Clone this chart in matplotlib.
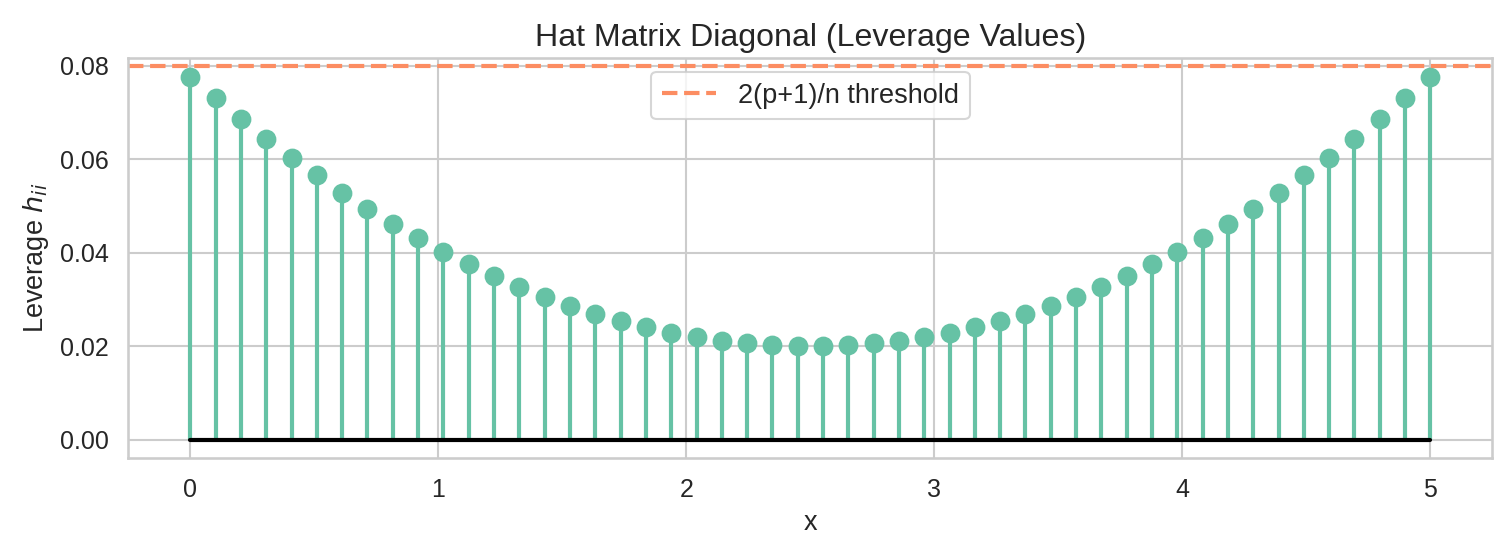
import matplotlib
matplotlib.use("Agg")
import matplotlib.pyplot as plt
import seaborn as sns

# x positions of the observations
x = [0.0, 0.102, 0.204, 0.306, 0.408, 0.510, 0.612, 0.714, 0.816, 0.918,
     1.020, 1.122, 1.224, 1.327, 1.429, 1.531, 1.633, 1.735, 1.837, 1.939,
     2.041, 2.143, 2.245, 2.347, 2.449, 2.551, 2.653, 2.755, 2.857, 2.959,
     3.061, 3.163, 3.265, 3.367, 3.469, 3.571, 3.673, 3.776, 3.878, 3.980,
     4.082, 4.184, 4.286, 4.388, 4.490, 4.592, 4.694, 4.796, 4.898, 5.0]

# leverage h_ii
half = [0.07765, 0.07304, 0.06862, 0.06439, 0.06036, 0.05652, 0.05287,
        0.04941, 0.04615, 0.04307, 0.04019, 0.03750, 0.03501, 0.03270,
        0.03059, 0.02867, 0.02694, 0.02540, 0.02406, 0.02291, 0.02194,
        0.02118, 0.02060, 0.02022, 0.02002]
leverage = half + half[::-1]

threshold = 0.08
threshold_label = "2(p+1)/n threshold"

sns.set_theme(style="whitegrid")
plt.rcParams['font.family'] = ['Liberation Sans', 'DejaVu Sans']
pal = sns.color_palette("Set2")

fig, ax = plt.subplots(figsize=(10.07, 3.7), dpi=150)

markerline, stemlines, baseline = ax.stem(x, leverage)
plt.setp(markerline, color=pal[0], markersize=8.5)
plt.setp(stemlines, color=pal[0], linewidth=2)
plt.setp(baseline, color="black", linewidth=2)

ax.axhline(threshold, color=pal[1], linestyle="--", linewidth=2, label=threshold_label)

ax.set_xlim(-0.25, 5.25)
ax.set_ylim(-0.0039, 0.0816)
ax.set_xlabel("x", fontsize=13)
ax.set_ylabel("Leverage $h_{ii}$", fontsize=13)
ax.set_title("Hat Matrix Diagonal (Leverage Values)", fontsize=15.4)
ax.tick_params(labelsize=12)
ax.legend(loc="upper center", fontsize=13)

fig.subplots_adjust(left=0.085, right=0.988, top=0.895, bottom=0.175)
fig.savefig("out.png", dpi=150)
